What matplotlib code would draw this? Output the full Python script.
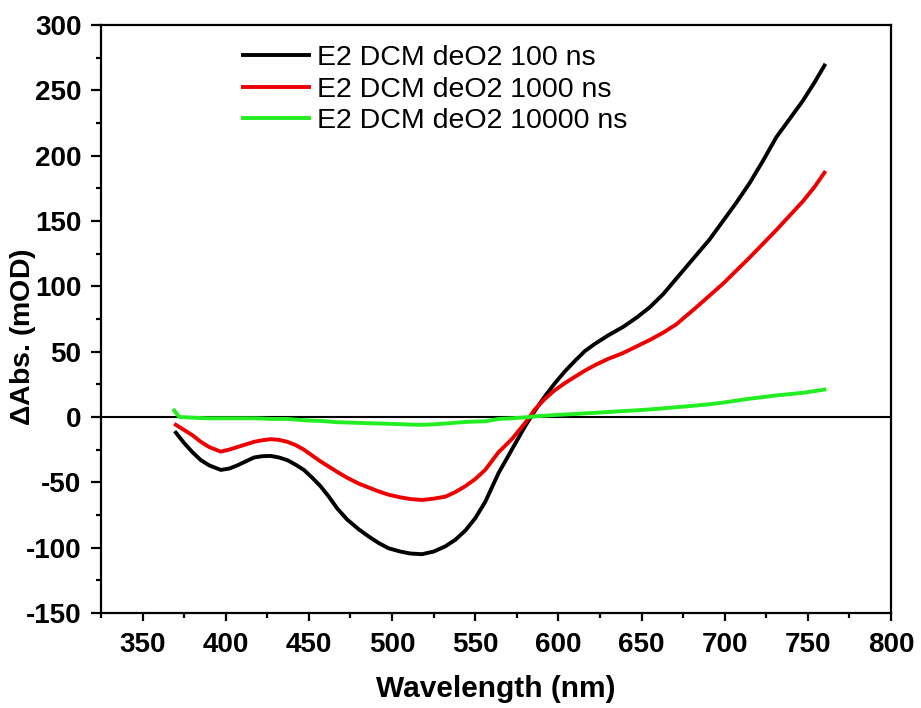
import matplotlib
matplotlib.use("Agg")
import matplotlib.pyplot as plt
from matplotlib.ticker import MultipleLocator

plt.rcParams['font.family'] = ['Liberation Sans', 'DejaVu Sans']
plt.rcParams['mathtext.fontset'] = 'custom'
plt.rcParams['mathtext.it'] = 'Liberation Sans:italic:bold'
plt.rcParams['mathtext.rm'] = 'Liberation Sans:bold'
plt.rcParams['axes.unicode_minus'] = False

# wavelength grid (nm)
wl = [370, 375, 380, 385, 390, 397, 402, 407, 412, 417, 422, 427, 432, 437,
      442, 447, 452, 457, 462, 467, 473, 480, 486, 492, 498, 505, 511, 518,
      525, 532, 538, 544, 550, 556, 564, 572, 580, 586, 592, 598, 604, 610,
      616, 622, 630, 639, 647, 655, 663, 671, 683, 691, 699, 707, 715, 723,
      731, 739, 747, 754, 760]

abs_100 = [-12, -20, -27, -33, -37, -40.5, -39.5, -37, -34, -31, -30, -29.8,
           -31, -33, -36.5, -40.5, -46.5, -53, -61, -70, -78.5, -86, -91.5,
           -96.5, -100.5, -103, -104.5, -105, -103, -99, -94, -87, -77.5, -65,
           -43, -25, -7, 5, 16, 26, 35, 43, 50.5, 56, 62.5, 69, 76, 84, 94,
           106, 124, 136, 150, 164, 179, 196, 214, 228, 242, 256, 269]

abs_1000 = [-6, -10, -14, -19, -23, -26.5, -25, -23, -21, -19, -17.8, -17,
            -17.5, -19, -21.5, -25, -29.5, -34, -38, -42, -46.5, -51, -54,
            -57, -59.5, -61.5, -62.8, -63.5, -62.5, -61, -57.5, -53, -47.5,
            -40.5, -27, -17, -4.6, 6, 14, 20.6, 26, 30.8, 35.5, 39.7, 44.5, 49,
            54, 59, 64.5, 71, 84, 93, 102, 112, 122, 132.5, 143, 154, 165, 176,
            187]

wl_green = [369, 372] + wl[2:]
abs_10000 = [5, 0, -0.5, -0.8, -1, -1, -1, -1, -1, -1, -1.2, -1.5, -1.5, -1.5,
             -2, -2.5, -2.8, -3, -3.5, -4, -4.2, -4.5, -4.8, -5, -5.2, -5.5,
             -5.8, -6, -5.6, -5, -4.4, -3.8, -3.5, -3.3, -1.5, -1, -0.3, 0.5,
             1, 1.5, 1.9, 2.3, 2.8, 3.2, 3.8, 4.5, 5.1, 5.8, 6.6, 7.5, 8.8,
             9.8, 11, 12.5, 14, 15.2, 16.5, 17.5, 18.5, 19.8, 21]

labels = ["E2 DCM deO2 100 ns", "E2 DCM deO2 1000 ns", "E2 DCM deO2 10000 ns"]

fig = plt.figure(figsize=(9.21, 7.08), dpi=100)
ax = fig.add_axes([0.1097, 0.1342, 0.8577, 0.8305])

ax.axhline(0, color="black", lw=1.5, zorder=1)
ax.plot(wl, abs_100, color="black", lw=2.8, label=labels[0], zorder=3)
ax.plot(wl, abs_1000, color="#ee0000", lw=2.8, label=labels[1], zorder=3)
ax.plot(wl_green, abs_10000, color="#22ee22", lw=2.8, label=labels[2], zorder=4)

ax.set_xlim(325, 800)
ax.set_ylim(-150, 300)
ax.xaxis.set_major_locator(MultipleLocator(50))
ax.xaxis.set_minor_locator(MultipleLocator(25))
ax.yaxis.set_major_locator(MultipleLocator(50))
ax.yaxis.set_minor_locator(MultipleLocator(25))

for s in ax.spines.values():
    s.set_linewidth(1.6)
ax.tick_params(which="major", direction="out", length=7, width=1.6,
               labelsize=20, pad=7)
ax.tick_params(which="minor", direction="out", length=3.5, width=1.6)
for lab in ax.get_xticklabels() + ax.get_yticklabels():
    lab.set_fontweight("bold")
ax.tick_params(axis="x", length=6, pad=8)

ax.set_xlabel("Wavelength (nm)", fontsize=21.5, fontweight="bold")
ax.xaxis.set_label_coords(0.5, -0.105)
ax.set_ylabel(r"$\mathit{\Delta}$Abs. (mOD)", fontsize=20.5, fontweight="bold")
ax.yaxis.set_label_coords(-0.08, 0.47)

leg = ax.legend(loc="upper left", bbox_to_anchor=(0.155, 1.0), frameon=False,
                fontsize=20.5, handlelength=2.3, handletextpad=0.27,
                labelspacing=0.2, borderaxespad=0.3)
for line in leg.get_lines():
    line.set_linewidth(2.8)

fig.savefig("out.png", dpi=100)
